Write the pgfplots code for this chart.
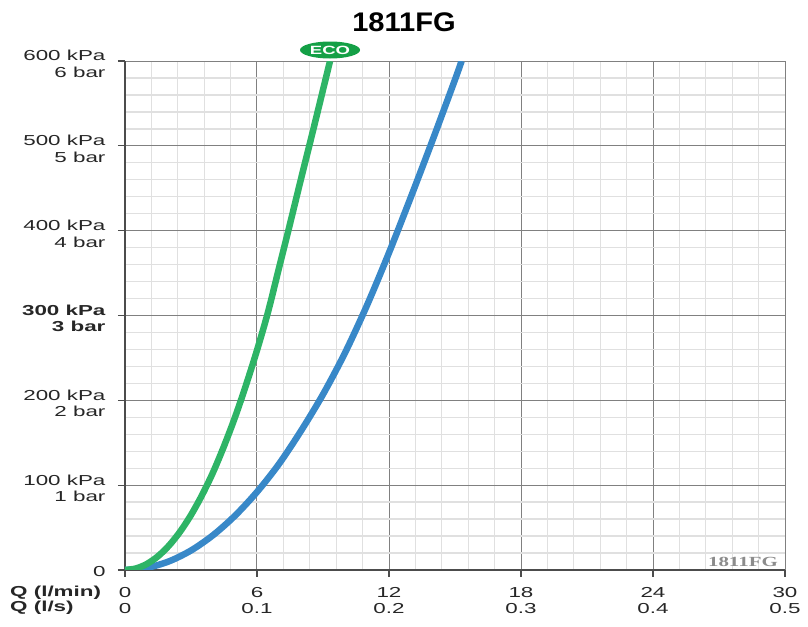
\documentclass[border=0pt]{standalone}
\usepackage{pgfplots}
\pgfplotsset{compat=1.18}
\usepackage{fontspec}
\setmainfont{Liberation Sans}
\newfontfamily\wide[FakeStretch=1.55]{Liberation Sans}
\newfontfamily\wideserif[FakeStretch=1.5]{Liberation Serif}
\newfontfamily\titlefont[FakeStretch=1.08]{Liberation Sans}
\usetikzlibrary{shapes.geometric}
\definecolor{ecogreen}{RGB}{46,180,102}
\definecolor{flowblue}{RGB}{56,136,200}
\definecolor{badgegreen}{RGB}{20,160,70}

\pgfplotstableread{
Q p
0 0
0.5 1.8
1 7.2
1.5 16.2
2 28.8
2.5 45
3 64.8
3.5 88.2
4 115
4.5 146
5 180
5.5 218
6 259
6.5 304
7 356
7.5 408
8 461
8.5 513
9 566
9.32 600
}\greendata

\pgfplotstableread{
Q p
0 0
1 2.6
2 10.2
3 23
4 41
5 64
6 92
7 125
8 164
9 207
10 256
11 312
12 374
13 440
14 508
15 578
15.3 600
}\bluedata

\begin{document}
\begin{tikzpicture}
\path[use as bounding box] (-125bp,-57bp) rectangle (683bp,570bp);
\begin{axis}[
  scale only axis, width=660bp, height=509bp,
  at={(0,0)}, anchor=south west,
  xmin=0, xmax=30, ymin=0, ymax=600,
  xtick={0,6,12,18,24,30},
  ytick={0,100,200,300,400,500,600},
  minor x tick num=4, minor y tick num=4,
  grid=both,
  major grid style={draw=black!50, line width=1bp},
  minor grid style={draw=black!12, line width=1.3bp},
  axis lines=left,
  axis line style={-, draw=black!70, line width=1.3bp},
  tick align=outside, major tick length=7bp, minor tick length=0pt,
  major tick style={draw=black!70, line width=1.2bp},
  xticklabels={{0\\0},{6\\0.1},{12\\0.2},{18\\0.3},{24\\0.4},{30\\0.5}},
  yticklabels={{\raisebox{3bp}{0}},{100 kPa\\1 bar},{200 kPa\\2 bar},{\bfseries 300 kPa\\\bfseries 3 bar},{400 kPa\\4 bar},{500 kPa\\5 bar},{600 kPa\\6 bar}},
  xticklabel style={align=center, font=\wide\fontsize{14.5}{15.5}\selectfont, text=black!85, yshift=-7bp},
  yticklabel style={align=right, font=\wide\fontsize{14.5}{16.5}\selectfont, text=black!85, anchor=east, yshift=-3bp, xshift=-9bp},
  /pgf/number format/assume math mode=true,
]
\addplot[draw=flowblue, line width=6.5bp, smooth, tension=0.5] table[x=Q,y=p] {\bluedata};
\addplot[draw=ecogreen, line width=6.5bp, smooth, tension=0.5] table[x=Q,y=p] {\greendata};
\coordinate (eco) at (axis cs:9.32,600);
\coordinate (br) at (axis cs:30,0);
\end{axis}
\node[ellipse, fill=badgegreen, inner sep=0pt, minimum width=60bp, minimum height=17bp, text=white, font=\wide\bfseries\fontsize{12}{13}\selectfont] at ([yshift=11bp]eco) {ECO};
\node[anchor=south east, inner sep=0pt, text=black!45, font=\wideserif\bfseries\fontsize{14}{16}\selectfont] at ([xshift=-7bp,yshift=3bp]br) {1811FG};
\node[font=\titlefont\bfseries\fontsize{27}{30}\selectfont] at (279bp,548bp) {1811FG};
\node[anchor=west, align=left, inner sep=0pt, font=\wide\bfseries\fontsize{14.5}{15.5}\selectfont, text=black!85] at (-115bp,-30bp) {Q (l/min)\\Q (l/s)};
\end{tikzpicture}
\end{document}
